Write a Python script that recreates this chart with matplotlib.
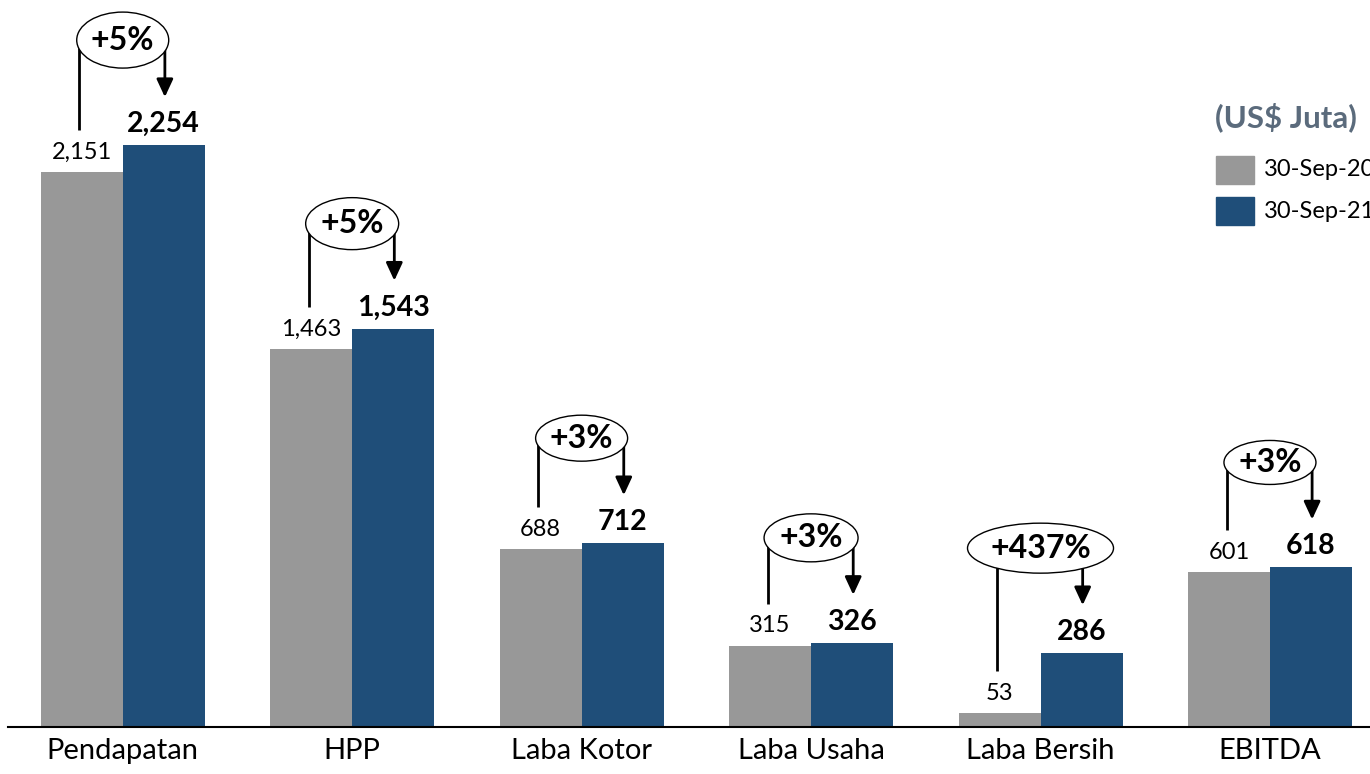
import matplotlib
matplotlib.use("Agg")
import matplotlib.pyplot as plt
from matplotlib.patches import Ellipse, Rectangle

plt.rcParams['font.family'] = ['Lato', 'DejaVu Sans']

# ---- data ----
categories = ["Pendapatan", "HPP", "Laba Kotor", "Laba Usaha", "Laba Bersih", "EBITDA"]
sep20 = [2151, 1463, 688, 315, 53, 601]
sep21 = [2254, 1543, 712, 326, 286, 618]
growth = ["+5%", "+5%", "+3%", "+3%", "+437%", "+3%"]
series_names = ["30-Sep-20", "30-Sep-21"]
unit_label = "(US$ Juta)"

GRAY = "#989898"
BLUE = "#1f4e79"

# ---- figure / axes layout (pixels of a 1370x774 canvas) ----
W, H = 1370, 774
fig = plt.figure(figsize=(W / 100, H / 100), dpi=100)
ax_left, ax_bottom, ax_h = 8, 47, 727
ax = fig.add_axes([ax_left / W, ax_bottom / H, 1 - ax_left / W, ax_h / H])

ymax = 2816
ax.set_ylim(0, ymax)
ax.set_xlim(-0.5, 5.436)
px_x = (W - ax_left) / (5.436 + 0.5)   # pixels per x unit
px_y = ax_h / ymax                    # pixels per y unit

bw = 82 / px_x
x = list(range(len(categories)))
x_gray = [i - bw / 2 for i in x]
x_blue = [i + bw / 2 for i in x]

ax.bar(x_gray, sep20, width=bw, color=GRAY, zorder=2)
ax.bar(x_blue, sep21, width=bw, color=BLUE, zorder=2)

# value labels
for xg, v in zip(x_gray, sep20):
    ax.annotate(f"{v:,}", (xg, v), xytext=(0, 9.5), textcoords="offset points",
                ha="center", va="baseline", fontsize=17, color="black")
for xb, v in zip(x_blue, sep21):
    ax.annotate(f"{v:,}", (xb, v), xytext=(0, 9.5), textcoords="offset points",
                ha="center", va="baseline", fontsize=20.5, fontweight="bold", color="black")

# growth callouts: ellipse + line from gray bar + arrow to blue bar
ell_w = [92, 93, 92, 94, 146, 92]
ell_h = [56, 52, 46, 48, 50, 44]
for i in x:
    cy = sep21[i] + 105 / px_y
    ell = Ellipse((i, cy), ell_w[i] / px_x, ell_h[i] / px_y,
                  facecolor="white", edgecolor="black", lw=1.0, zorder=6)
    ax.add_patch(ell)
    ax.text(i, cy, growth[i], ha="center", va="center", fontsize=23,
            fontweight="bold", zorder=7)
    ax.plot([x_gray[i] - 0.01, x_gray[i] - 0.01], [cy, sep20[i] + 42 / px_y],
            color="black", lw=2, zorder=5, solid_capstyle="butt")
    ax.annotate("", xy=(x_blue[i] + 0.005, sep21[i] + 48 / px_y),
                xytext=(x_blue[i] + 0.005, cy),
                arrowprops=dict(arrowstyle="-|>,head_length=0.54,head_width=0.25",
                                mutation_scale=20, lw=2, color="black",
                                shrinkA=0, shrinkB=0), zorder=5)

# axes styling
for s in ["top", "right", "left"]:
    ax.spines[s].set_visible(False)
ax.spines["bottom"].set_linewidth(1.5)
ax.set_yticks([])
ax.set_xticks(x)
ax.set_xticklabels(categories, fontsize=21)
ax.tick_params(axis="x", length=0, pad=8)

# legend drawn by hand at the right edge (runs off the canvas as in the source)
fig.text(1215 / W, 1 - 117 / H, unit_label, fontsize=22.5, fontweight="bold",
         color="#5b6b7c", ha="left", va="center")
for k, (name, col) in enumerate(zip(series_names, [GRAY, BLUE])):
    top = 156 + k * 41
    fig.add_artist(Rectangle((1216 / W, 1 - (top + 28) / H), 38 / W, 28 / H,
                             transform=fig.transFigure, color=col))
    fig.text(1264 / W, 1 - (top + 14) / H, name, fontsize=17,
             ha="left", va="center")

fig.savefig("out.png", dpi=100)
